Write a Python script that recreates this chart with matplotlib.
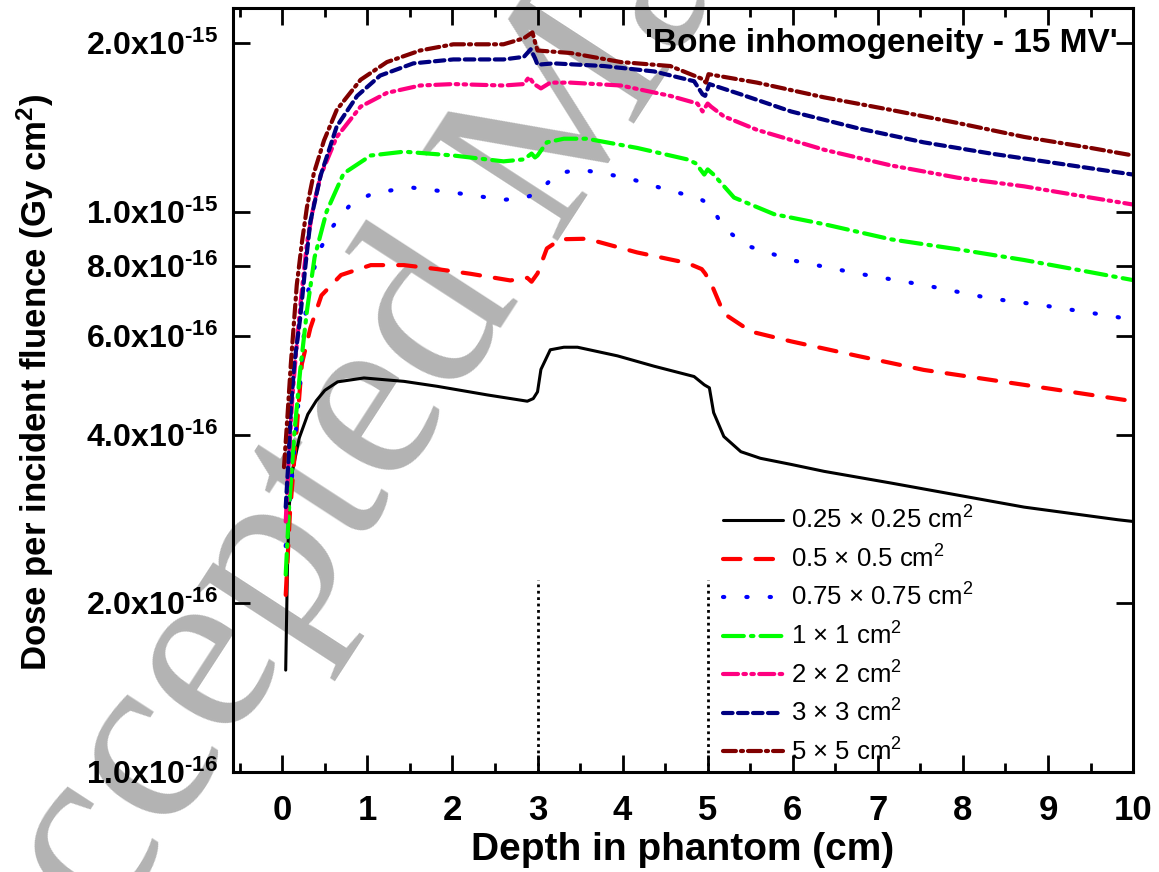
import matplotlib
matplotlib.use("Agg")
import matplotlib.pyplot as plt
from matplotlib.ticker import MultipleLocator, NullLocator, FixedLocator

plt.rcParams['font.family'] = ['Liberation Sans', 'DejaVu Sans']
plt.rcParams['mathtext.fontset'] = 'custom'
plt.rcParams['mathtext.rm'] = 'Liberation Sans'
plt.rcParams['mathtext.bf'] = 'Liberation Sans:bold'
plt.rcParams['mathtext.it'] = 'Liberation Sans:italic'

# dose values in units of 1e-16 Gy cm^2
black_x = [0.04, 0.06, 0.08, 0.12, 0.2, 0.3, 0.4, 0.5, 0.65, 0.96, 1.43, 1.82, 2.41, 2.88, 2.95, 3.0, 3.04,
           3.15, 3.31, 3.47, 3.94, 4.37, 4.84, 4.96, 5.02, 5.07, 5.19, 5.39, 5.62, 5.98, 6.37, 7.15, 7.94,
           8.72, 9.82, 10.0]
black_y = [1.52, 2.3, 2.97, 3.45, 3.95, 4.35, 4.6, 4.8, 4.97, 5.05, 4.98, 4.88, 4.71, 4.59, 4.64, 4.77, 5.23,
           5.67, 5.73, 5.73, 5.53, 5.3, 5.08, 4.91, 4.85, 4.38, 3.97, 3.73, 3.63, 3.54, 3.44, 3.28, 3.12,
           2.97, 2.82, 2.8]

red_x = [0.04, 0.09, 0.14, 0.23, 0.33, 0.46, 0.69, 1.04, 1.43, 1.82, 2.21, 2.68, 2.88, 2.93, 3.0, 3.11,
         3.27, 3.58, 4.17, 4.76, 4.93, 4.97, 5.04, 5.19, 5.51, 5.98, 6.76, 7.54, 8.33, 9.11, 10.0]
red_y = [2.07, 2.9, 3.6, 5.35, 6.2, 7.09, 7.71, 8.03, 8.03, 7.9, 7.75, 7.54, 7.62, 7.5, 7.76, 8.6,
         8.93, 8.95, 8.46, 8.1, 7.9, 7.76, 7.45, 6.58, 6.11, 5.87, 5.53, 5.22, 5.01, 4.81, 4.59]

blue_x = [0.04, 0.12, 0.21, 0.29, 0.43, 0.59, 0.8, 1.07, 1.51, 2.05, 2.6, 2.86, 3.0, 3.23, 3.5, 4.05,
          4.56, 4.88, 5.03, 5.19, 5.46, 5.98, 6.76, 7.54, 8.33, 8.96, 9.78, 10.0]
blue_y = [2.53, 3.45, 4.97, 7.1, 8.5, 9.4, 10.3, 10.8, 11.05, 10.8, 10.5, 10.6, 10.8, 11.7, 11.9, 11.5,
          10.9, 10.6, 10.3, 9.35, 8.7, 8.2, 7.76, 7.4, 7.0, 6.8, 6.5, 6.41]

green_x = [0.04, 0.08, 0.14, 0.21, 0.29, 0.38, 0.52, 0.72, 1.04, 1.43, 2.01, 2.6, 2.84, 2.93, 2.97, 3.0,
           3.11, 3.31, 3.58, 4.17, 4.76, 4.86, 4.96, 5.0, 5.07, 5.31, 5.78, 6.37, 7.15, 7.94, 8.72, 9.5, 10.0]
green_y = [2.25, 2.97, 4.0, 5.2, 6.66, 8.3, 10.0, 11.7, 12.6, 12.8, 12.6, 12.3, 12.4, 12.7, 12.5, 12.6,
           13.3, 13.5, 13.5, 13.0, 12.4, 12.2, 11.65, 11.9, 11.65, 10.6, 9.9, 9.5, 8.93, 8.57, 8.2, 7.8, 7.55]

pink_x = [0.04, 0.08, 0.12, 0.17, 0.22, 0.29, 0.37, 0.45, 0.64, 0.92, 1.23, 1.62, 2.01, 2.6, 2.84, 2.9,
          2.96, 3.04, 3.15, 3.39, 3.98, 4.56, 4.88, 4.94, 5.0, 5.04, 5.19, 5.58, 6.37, 7.15, 7.94, 8.72,
          9.5, 10.0]
pink_y = [2.8, 3.7, 4.7, 5.8, 7.0, 8.8, 10.3, 11.6, 13.6, 15.4, 16.3, 16.8, 16.9, 16.8, 16.9, 17.4,
          16.9, 16.6, 17.0, 17.0, 16.8, 16.1, 15.6, 15.1, 15.6, 15.4, 14.8, 14.0, 12.9, 12.1, 11.5, 11.1,
          10.6, 10.3]

navy_x = [0.04, 0.07, 0.1, 0.14, 0.21, 0.27, 0.33, 0.45, 0.64, 0.88, 1.15, 1.54, 2.01, 2.6, 2.84, 2.92,
          2.97, 3.0, 3.19, 3.78, 4.37, 4.84, 4.94, 4.97, 5.02, 5.39, 5.98, 6.76, 7.54, 8.33, 9.11, 10.0]
navy_y = [2.97, 3.55, 4.42, 5.34, 6.45, 7.96, 9.6, 11.6, 14.2, 16.1, 17.5, 18.4, 18.7, 18.7, 18.9, 19.5,
          18.8, 18.3, 18.4, 18.2, 17.8, 17.1, 16.2, 16.1, 16.9, 16.2, 15.1, 14.1, 13.3, 12.7, 12.2, 11.65]

maroon_x = [0.02, 0.06, 0.1, 0.17, 0.23, 0.29, 0.37, 0.49, 0.64, 0.92, 1.23, 1.62, 2.01, 2.6, 2.84,
            2.94, 2.97, 3.0, 3.39, 3.98, 4.56, 4.92, 4.98, 5.01, 5.58, 6.37, 7.15, 7.94, 8.72, 9.5, 10.0]
maroon_y = [3.5, 4.3, 5.34, 7.4, 8.8, 10.2, 11.7, 13.4, 15.2, 17.2, 18.5, 19.4, 19.9, 19.9, 20.4,
            20.9, 20.1, 19.4, 19.2, 18.5, 18.2, 17.3, 17.0, 17.6, 17.0, 16.0, 15.2, 14.4, 13.6, 13.0, 12.6]

labels = ['0.25 × 0.25 cm$^2$', '0.5 × 0.5 cm$^2$', '0.75 × 0.75 cm$^2$', '1 × 1 cm$^2$',
          '2 × 2 cm$^2$', '3 × 3 cm$^2$', '5 × 5 cm$^2$']
colors = ['black', '#ff0000', '#0000ff', '#00ff00', '#ff0080', '#000080', '#800000']
styles = ['-', (0, (4.2, 3.6)), (0, (0.3, 5.3)), (0, (5, 1.7, 0.6, 1.7)), (0, (3.6, 1.3, 0.6, 1.3, 0.6, 1.3)),
          (0, (2.3, 1.3)), (0, (3.1, 1.2, 0.5, 1.2))]
series = [(black_x, black_y), (red_x, red_y), (blue_x, blue_y), (green_x, green_y),
          (pink_x, pink_y), (navy_x, navy_y), (maroon_x, maroon_y)]

yticks = [1e-16, 2e-16, 4e-16, 6e-16, 8e-16, 1e-15, 2e-15]
ytick_labels = ['$\\mathbf{1.0x10^{\u201016}}$', '$\\mathbf{2.0x10^{\u201016}}$',
                '$\\mathbf{4.0x10^{\u201016}}$', '$\\mathbf{6.0x10^{\u201016}}$',
                '$\\mathbf{8.0x10^{\u201016}}$', '$\\mathbf{1.0x10^{\u201015}}$',
                '$\\mathbf{2.0x10^{\u201015}}$']

fig = plt.figure(figsize=(11.59, 8.72), dpi=100)
ax = fig.add_axes([0.201, 0.1147, 0.7766, 0.8761])
ax.set_facecolor('none')

# watermark behind the plot
fig.text(0.466, 0.818, 'Accepted Manuscript', fontsize=178, family='Liberation Serif', color='#b3b3b3',
         rotation=57, ha='center', va='center', rotation_mode='anchor', zorder=-5)

for (xs, ys), lab, col, ls in zip(series, labels, colors, styles):
    lw = 2.2 if col == 'black' else 3.0
    ax.plot(xs, [v * 1e-16 for v in ys], color=col, linestyle=ls, linewidth=lw, label=lab,
            dash_capstyle='round', solid_capstyle='round')

# bone slab boundaries
for xb in [3, 5]:
    ax.plot([xb, xb], [1e-16, 2.2e-16], color='black', linestyle=(0, (1, 1.3)), linewidth=2)

ax.set_yscale('log')
ax.set_xlim(-0.58, 10)
ax.set_ylim(1e-16, 2.31e-15)
ax.yaxis.set_major_locator(FixedLocator(yticks))
ax.yaxis.set_minor_locator(NullLocator())
ax.set_yticklabels(ytick_labels, fontsize=23)
ax.xaxis.set_minor_locator(MultipleLocator(0.5))
ax.set_xticks(range(0, 11))
ax.set_xticklabels([str(i) for i in range(0, 11)], fontsize=25, fontweight='bold')

ax.tick_params(which='both', direction='in', top=True, right=True, width=2)
ax.tick_params(which='major', length=12)
ax.tick_params(which='minor', length=6.5)
ax.tick_params(axis='x', pad=16)
ax.tick_params(axis='y', pad=11)
for sp in ax.spines.values():
    sp.set_linewidth(2.2)

ax.set_xlabel('Depth in phantom (cm)', fontsize=28, fontweight='bold')
ax.xaxis.set_label_coords(0.5, -0.079)
ax.set_ylabel(r'Dose per incident fluence (Gy cm$^\mathbf{2}$)', fontsize=25, fontweight='bold')
ax.yaxis.set_label_coords(-0.197, 0.51)

ax.text(0.983, 0.954, "'Bone inhomogeneity - 15 MV'", transform=ax.transAxes, ha='right', va='center',
        fontsize=24, fontweight='bold')

ax.legend(loc='upper left', bbox_to_anchor=(0.544, 0.347), frameon=False, fontsize=18.5,
          handlelength=2.35, handletextpad=0.3, labelspacing=0.44, borderpad=0, borderaxespad=0)

fig.savefig('out.png', dpi=100)
